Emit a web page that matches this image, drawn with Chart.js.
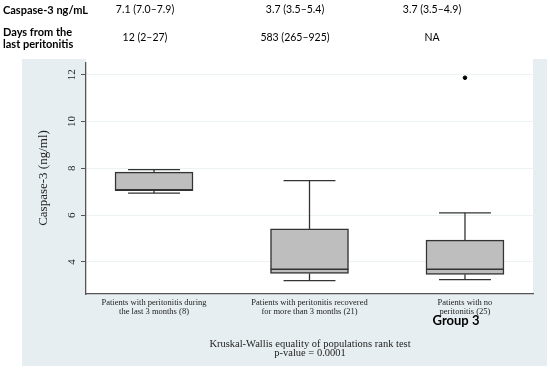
<!DOCTYPE html>
<html>
<head>
<meta charset="utf-8">
<script src="https://cdn.jsdelivr.net/npm/chart.js@4/dist/chart.umd.min.js"></script>
<style>
  html, body { margin: 0; padding: 0; background: #fff; }
</style>
</head>
<body>
<canvas id="chart" width="550" height="369"></canvas>
<script>
// groups (x positions 1..3)
const groupLabels = [
  ['Patients with peritonitis during', 'the last 3 months (8)'],
  ['Patients with peritonitis recovered', 'for more than 3 months (21)'],
  ['Patients with no', 'peritonitis (25)']
];
const groupPos = [1, 2, 3];

// box plot values (ng/ml)
const lowWhisker = [6.94, 3.20, 3.24];
const q1 = [7.04, 3.51, 3.47];
const median = [7.08, 3.69, 3.69];
const q3 = [7.84, 5.41, 4.93];
const highWhisker = [7.94, 7.47, 6.10];
const outlierGroup = [3];
const outlierValue = [11.87];

const yTicks = [4, 6, 8, 10, 12];

// summary table above the chart
const tableCaspase = ['7.1 (7.0\u20137.9)', '3.7 (3.5\u20135.4)', '3.7 (3.5\u20134.9)'];
const tableDays = ['12 (2\u201327)', '583 (265\u2013925)', 'NA'];

const serif = '"Liberation Serif", "Times New Roman", serif';
const sans = 'Lato, "Open Sans", sans-serif';

const boxPlot = {
  id: 'boxPlot',
  beforeDraw(chart) {
    const ctx = chart.ctx;
    const a = chart.chartArea;
    ctx.save();
    ctx.fillStyle = '#e7eef1';
    ctx.fillRect(22, 59, 525, 307);
    ctx.fillStyle = '#fff';
    ctx.fillRect(a.left, a.top - 4, a.right - a.left, a.bottom - a.top + 4);
    ctx.restore();
  },
  afterDatasetsDraw(chart) {
    const ctx = chart.ctx;
    const x = chart.scales.x, y = chart.scales.y;
    ctx.save();
    ctx.strokeStyle = '#333';
    ctx.lineWidth = 1.3;
    groupPos.forEach((g, i) => {
      const px = x.getPixelForValue(g);
      const cap = x.getPixelForValue(g + 0.167) - px;
      const half = x.getPixelForValue(g + 0.25) - px;
      const line = (x1, y1, x2, y2) => {
        ctx.beginPath(); ctx.moveTo(x1, y1); ctx.lineTo(x2, y2); ctx.stroke();
      };
      line(px, y.getPixelForValue(highWhisker[i]), px, y.getPixelForValue(q3[i]));
      line(px, y.getPixelForValue(lowWhisker[i]), px, y.getPixelForValue(q1[i]));
      line(px - cap, y.getPixelForValue(highWhisker[i]), px + cap, y.getPixelForValue(highWhisker[i]));
      line(px - cap, y.getPixelForValue(lowWhisker[i]), px + cap, y.getPixelForValue(lowWhisker[i]));
      ctx.lineWidth = 1.6;
      line(px - half, y.getPixelForValue(median[i]), px + half, y.getPixelForValue(median[i]));
      ctx.lineWidth = 1.3;
    });
    ctx.restore();
  },
  afterDraw(chart) {
    const ctx = chart.ctx;
    const y = chart.scales.y;
    ctx.save();
    ctx.fillStyle = '#222';
    // rotated y tick labels
    ctx.font = '11px ' + serif;
    ctx.textAlign = 'center';
    ctx.textBaseline = 'middle';
    yTicks.forEach(v => {
      ctx.save();
      ctx.translate(72, y.getPixelForValue(v));
      ctx.rotate(-Math.PI / 2);
      ctx.fillText(String(v), 0, 0);
      ctx.restore();
    });
    // y axis title
    ctx.save();
    ctx.font = '13px ' + serif;
    ctx.translate(44, 178);
    ctx.rotate(-Math.PI / 2);
    ctx.fillText('Caspase-3 (ng/ml)', 0, 0);
    ctx.restore();
    // footer
    ctx.font = '10.5px ' + serif;
    ctx.fillText('Kruskal-Wallis equality of populations rank test', 310, 344);
    ctx.fillText('p-value = 0.0001', 310, 353);
    // Group 3 label
    ctx.fillStyle = '#000';
    ctx.font = 'bold 13px ' + sans;
    ctx.fillText('Group 3', 456, 321);
    // table
    ctx.textAlign = 'left';
    ctx.font = 'bold 11px ' + sans;
    ctx.fillText('Caspase-3 ng/mL', 3, 10);
    ctx.fillText('Days from the', 3, 32);
    ctx.fillText('last peritonitis', 3, 44);
    ctx.textAlign = 'center';
    ctx.font = '10.5px ' + sans;
    const cols = [145, 295, 432];
    cols.forEach((cx, i) => {
      ctx.fillText(tableCaspase[i], cx, 10);
      ctx.fillText(tableDays[i], cx, 38);
    });
    ctx.restore();
  }
};

new Chart(document.getElementById('chart'), {
  type: 'bar',
  data: {
    datasets: [{
      type: 'bar',
      data: groupPos.map((g, i) => ({ x: g, y: [q1[i], q3[i]] })),
      backgroundColor: '#bebebe',
      borderColor: '#333',
      borderWidth: 1.5,
      borderSkipped: false,
      barThickness: 78
    }, {
      type: 'scatter',
      data: outlierGroup.map((g, i) => ({ x: g, y: outlierValue[i] })),
      backgroundColor: '#000',
      borderColor: '#000',
      pointRadius: 1.8
    }]
  },
  options: {
    responsive: false,
    animation: false,
    devicePixelRatio: 1,
    layout: { padding: { left: 0, top: 63, right: 17, bottom: 0 } },
    plugins: { legend: { display: false }, tooltip: { enabled: false } },
    scales: {
      x: {
        type: 'linear',
        offset: false,
        min: 0.5625,
        max: 3.4375,
        afterBuildTicks: s => { s.ticks = groupPos.map(v => ({ value: v })); },
        afterFit: s => { s.height = 75; },
        grid: { display: false, offset: false, drawTicks: false },
        border: { display: true, color: '#555', width: 1.3 },
        ticks: {
          callback: v => groupLabels[groupPos.indexOf(v)],
          font: { family: serif, size: 8.5, lineHeight: 1 },
          color: '#222',
          padding: 5,
          maxRotation: 0,
          autoSkip: false
        }
      },
      y: {
        min: 2.63,
        max: 12.5,
        afterBuildTicks: s => { s.ticks = yTicks.map(v => ({ value: v })); },
        afterFit: s => { s.width = 86; },
        grid: { color: '#edf2f4', tickColor: '#555', tickLength: 5, lineWidth: 1 },
        border: { display: true, color: '#555', width: 1.3 },
        ticks: { display: false }
      }
    }
  },
  plugins: [boxPlot]
});
</script>
</body>
</html>
